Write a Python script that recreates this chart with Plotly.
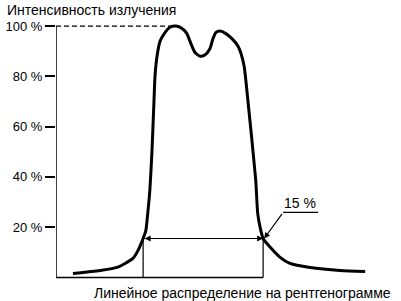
import plotly.graph_objects as go

# Intensity profile (position in arbitrary units 0..100, intensity in %)
profile_x = [5.0, 13.0, 18.0, 22.7, 24.2, 25.7, 26.5, 27.1, 27.7, 28.3, 28.9, 29.2, 29.8,
             30.7, 32.2, 33.6, 35.4, 37.2, 38.6, 39.8, 41.0, 42.5, 43.9, 45.4, 46.3, 47.2,
             48.4, 50.1, 51.9, 53.7, 54.6, 55.5, 56.6, 58.9, 59.5, 60.2, 61.1, 63.2, 66.1,
             69.0, 74.9, 83.8, 91.2]
profile_y = [1.6, 2.8, 4.0, 7.6, 10.8, 15.5, 18.7, 26.0, 35.0, 50.0, 70.0, 80.0, 88.0,
             94.0, 97.5, 99.5, 100.0, 99.0, 97.0, 93.0, 89.5, 88.0, 88.5, 91.0, 95.0, 97.5,
             98.0, 97.0, 95.0, 92.0, 89.0, 84.0, 70.5, 39.0, 25.5, 20.0, 15.5, 12.0, 8.0,
             5.6, 4.0, 2.8, 2.4]

level = 15.5                 # 15 % level
left_edge = 25.7             # left crossing of 15 % level
right_edge = 61.1            # right crossing of 15 % level
peak_x = 35.4
baseline_end = 61.1

tick_vals = [20, 40, 60, 80, 100]
tick_text = ["20 %", "40 %", "60 %", "80 %", "100 %"]

title_text = "Интенсивность излучения"
xlabel_text = "Линейное распределение на рентгенограмме"
level_label = "15 %"

FONT = "Liberation Sans, Arial, sans-serif"

fig = go.Figure()
fig.add_trace(go.Scatter(
    x=profile_x, y=profile_y, mode="lines",
    line=dict(color="black", width=3, shape="spline", smoothing=0.6),
    hoverinfo="skip", showlegend=False,
))

shapes = [
    dict(type="line", xref="x", yref="y", x0=0, x1=0, y0=0, y1=100,
         line=dict(color="black", width=1.5)),
    dict(type="line", xref="x", yref="y", x0=0, x1=baseline_end, y0=0, y1=0,
         line=dict(color="black", width=1.5)),
    dict(type="line", xref="x", yref="y", x0=0, x1=peak_x, y0=100, y1=100,
         line=dict(color="black", width=1.3, dash="5px,3px")),
    dict(type="line", xref="x", yref="y", x0=left_edge, x1=left_edge, y0=0, y1=level,
         line=dict(color="black", width=1.2)),
    dict(type="line", xref="x", yref="y", x0=right_edge, x1=right_edge, y0=0, y1=level,
         line=dict(color="black", width=1.2)),
    dict(type="line", xref="x", yref="y", x0=67.0, x1=77.3, y0=25.9, y1=25.9,
         line=dict(color="black", width=1.2)),
]

annotations = [
    dict(x=right_edge, y=level, ax=left_edge, ay=level, xref="x", yref="y",
         axref="x", ayref="y", text="", showarrow=True, arrowhead=2, arrowsize=1,
         arrowwidth=1.2, arrowside="end+start", standoff=0, startstandoff=0,
         arrowcolor="black"),
    dict(x=right_edge + 0.3, y=level, ax=67.0, ay=25.9, xref="x", yref="y",
         axref="x", ayref="y", text="", showarrow=True, arrowhead=2, arrowsize=1,
         arrowwidth=1.2, standoff=0, arrowcolor="black"),
    dict(x=72.0, y=29.5, xref="x", yref="y", text=level_label, showarrow=False,
         font=dict(family=FONT, size=14, color="black"), xanchor="center", yanchor="middle"),
    dict(x=(5 - 56) / 339, y=(279.5 - 9.5) / 264, xref="paper", yref="paper", text=title_text,
         showarrow=False, xanchor="left", yanchor="middle",
         font=dict(family=FONT, size=14, color="black")),
    dict(x=(393 - 56) / 339, y=(279.5 - 292) / 264, xref="paper", yref="paper", text=xlabel_text,
         showarrow=False, xanchor="right", yanchor="middle",
         font=dict(family=FONT, size=14, color="black")),
]

fig.update_layout(
    width=401, height=301,
    margin=dict(l=56, r=6, t=16, b=21, pad=0),
    paper_bgcolor="white", plot_bgcolor="white",
    shapes=shapes, annotations=annotations,
    xaxis=dict(range=[0, 100], showline=False, showgrid=False, zeroline=False,
               showticklabels=False, ticks=""),
    yaxis=dict(range=[-1, 104], showline=False, showgrid=False, zeroline=False,
               tickvals=tick_vals, ticktext=tick_text, ticks="outside", ticklen=10,
               tickwidth=1.5, tickcolor="black",
               tickfont=dict(family=FONT, size=13, color="black")),
)

fig.write_html("out.html")
